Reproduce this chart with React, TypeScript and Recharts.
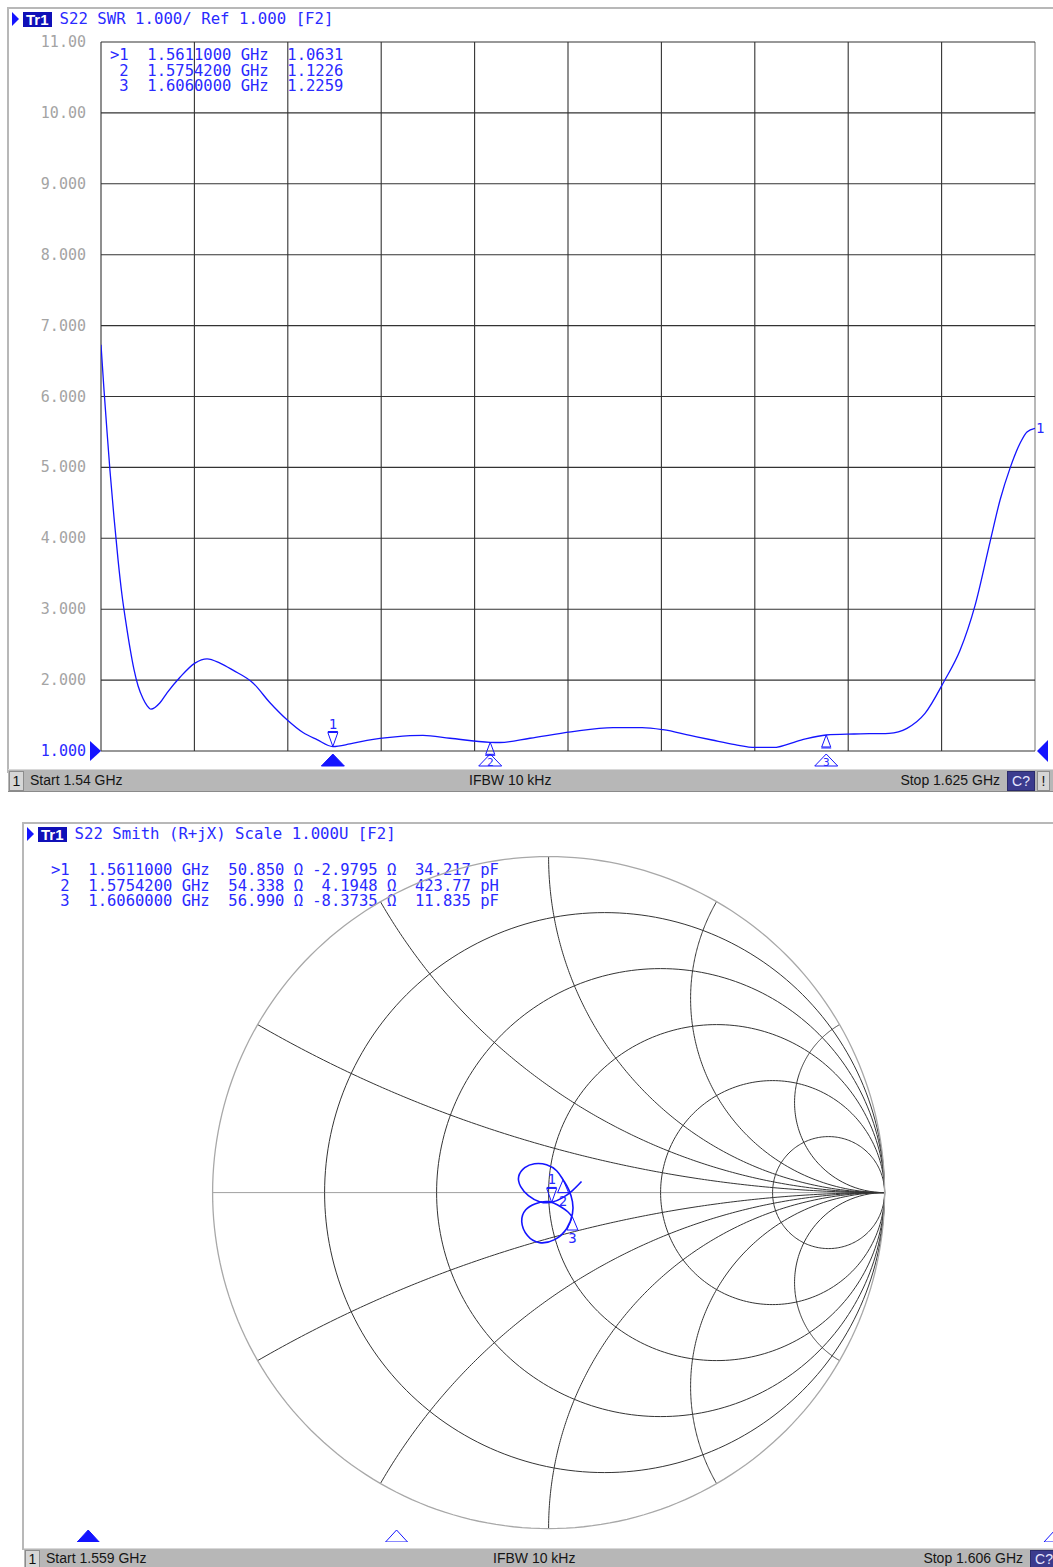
import React from 'react';
import { ComposedChart, Line, XAxis, YAxis, ReferenceLine, ReferenceDot } from 'recharts';

// ---------- data ----------
const startGHz = 1.54;
const stopGHz = 1.625;
const swrFreq = [1.54, 1.54027, 1.54055, 1.54082, 1.54118, 1.54155, 1.54191, 1.54228, 1.54264, 1.543, 1.54337, 1.54382, 1.54419, 1.54455, 1.54537, 1.54601, 1.54719, 1.54855, 1.54965, 1.55083, 1.55201, 1.55383, 1.55538, 1.55693, 1.55838, 1.55966, 1.5611, 1.56266, 1.56421, 1.56676, 1.5693, 1.57176, 1.57542, 1.57631, 1.57904, 1.58277, 1.5866, 1.58924, 1.59115, 1.59361, 1.59561, 1.5977, 1.59952, 1.60116, 1.60371, 1.606, 1.60853, 1.61172, 1.61335, 1.61499, 1.61672, 1.61818, 1.61954, 1.62091, 1.62182, 1.62273, 1.62364, 1.62427, 1.625];
const swrVal = [6.73, 6.1, 5.5, 4.95, 4.3, 3.7, 3.2, 2.8, 2.45, 2.15, 1.92, 1.74, 1.64, 1.59, 1.68, 1.82, 2.04, 2.24, 2.3, 2.24, 2.14, 1.96, 1.68, 1.44, 1.26, 1.16, 1.063, 1.1, 1.15, 1.2, 1.22, 1.18, 1.1226, 1.12, 1.18, 1.27, 1.33, 1.33, 1.3, 1.22, 1.155, 1.09, 1.05, 1.05, 1.155, 1.2259, 1.24, 1.25, 1.32, 1.53, 1.98, 2.42, 3.05, 3.95, 4.54, 4.99, 5.34, 5.5, 5.55];
const swrTicks = [1, 2, 3, 4, 5, 6, 7, 8, 9, 10, 11];
const swrTickLabels = ['1.000', '2.000', '3.000', '4.000', '5.000', '6.000', '7.000', '8.000', '9.000', '10.00', '11.00'];

const markerNames = ['1', '2', '3'];
const markerFreq = [1.5611, 1.57542, 1.606];
const markerSwr = [1.0631, 1.1226, 1.2259];
const markerR = [50.85, 54.338, 56.99];
const markerX = [-2.9795, 4.1948, -8.3735];
const markerLC = ['34.217 pF', '423.77 pH', '11.835 pF'];

const smithStart = 1.559;
const smithStop = 1.606;
const smithRe = [0.098, 0.071, 0.042, 0.009, -0.027, -0.06, -0.083, -0.089, -0.071, -0.042, -0.006, 0.024, 0.043, 0.06, 0.071, 0.071, 0.054, 0.018, -0.027, -0.063, -0.08, -0.068, -0.039, 0.0, 0.036, 0.057, 0.071];
const smithIm = [0.033, 0.006, -0.015, -0.029, -0.027, -0.009, 0.018, 0.048, 0.074, 0.086, 0.083, 0.065, 0.0385, 0.009, -0.027, -0.063, -0.107, -0.14, -0.149, -0.128, -0.086, -0.051, -0.033, -0.027, -0.042, -0.057, -0.0727];

const rCircles = [0.2, 0.5, 1, 2, 5];
const xArcs = [0.268, 0.577, 1, 1.732, 3.732];

// ---------- styles ----------
const MONO = '"DejaVu Sans Mono", monospace';
const SANS = '"Liberation Sans", Arial, sans-serif';
const BLUE = '#2a2aff';
const TRACE = '#1414ff';
const GRID = '#333333';
const GRAYTXT = '#a4a4a4';

// Smith geometry
const CX = 549;
const CY = 1193;
const RAD = 336;
const PAD = 1.1;
const SSIZE = 2 * RAD * PAD;

const zToGamma = (r: number, x: number) => {
  const den = (r + 1) * (r + 1) + x * x;
  return { x: (r * r - 1 + x * x) / den, y: (2 * x) / den };
};
const rCirclePts = (r: number) => {
  const c = r / (r + 1);
  const rad = 1 / (r + 1);
  return Array.from({ length: 241 }, (_, i) => {
    const a = (i / 240) * 2 * Math.PI;
    return { x: c + rad * Math.cos(a), y: rad * Math.sin(a) };
  });
};
const xArcPts = (xv: number) =>
  Array.from({ length: 201 }, (_, i) => {
    if (i === 200) return { x: 1, y: 0 };
    const r = Math.tan(((i / 200) * Math.PI) / 2);
    return zToGamma(r, xv);
  });

function SwrTick(props: any) {
  const { x, y, payload } = props;
  const v = payload.value;
  const label = swrTickLabels[swrTicks.indexOf(v)];
  const isRef = v === 1;
  return (
    <g>
      <text x={x - 7} y={y} dy={5} textAnchor="end" fontFamily={MONO} fontSize={15} fill={isRef ? BLUE : GRAYTXT}>
        {label}
      </text>
      {isRef && <polygon points={`${x - 3},${y - 10} ${x + 8},${y} ${x - 3},${y + 10}`} fill={TRACE} />}
    </g>
  );
}

function ActiveMark({ cx, cy, label }: any) {
  return (
    <g>
      <text x={cx} y={cy - 18} textAnchor="middle" fontFamily={MONO} fontSize={14} fill={BLUE}>
        {label}
      </text>
      <line x1={cx - 5} x2={cx + 5} y1={cy - 15} y2={cy - 15} stroke={TRACE} strokeWidth={1} />
      <polygon points={`${cx - 5},${cy - 14} ${cx + 5},${cy - 14} ${cx},${cy}`} fill="none" stroke={TRACE} strokeWidth={1} />
    </g>
  );
}

function InactiveSwrMark({ cx, cy }: any) {
  return (
    <g>
      <polygon points={`${cx},${cy} ${cx - 4.5},${cy + 12} ${cx + 4.5},${cy + 12}`} fill="none" stroke={TRACE} strokeWidth={1} />
      <line x1={cx - 5} x2={cx + 5} y1={cy + 13} y2={cy + 13} stroke={TRACE} strokeWidth={1} />
    </g>
  );
}

function SmithInactiveMark({ cx, cy, label }: any) {
  return (
    <g>
      <polygon points={`${cx},${cy} ${cx - 5.5},${cy + 13} ${cx + 5.5},${cy + 13}`} fill="none" stroke={TRACE} strokeWidth={1} />
      <text x={cx} y={cy + 26} textAnchor="middle" fontFamily={MONO} fontSize={14} fill={BLUE}>
        {label}
      </text>
    </g>
  );
}

function AxisIndicator({ cx, cy, active, label }: any) {
  const pts = `${cx},${cy + 3} ${cx - 11.5},${cy + 15} ${cx + 11.5},${cy + 15}`;
  return (
    <g>
      <polygon points={pts} fill={active ? TRACE : 'none'} stroke={TRACE} strokeWidth={1} />
      {!active && (
        <text x={cx} y={cy + 15} textAnchor="middle" fontFamily={MONO} fontSize={11} fill={BLUE}>
          {label}
        </text>
      )}
    </g>
  );
}

function Header({ left, top, text }: any) {
  return (
    <div style={{ position: 'absolute', left, top, height: 16, display: 'flex', alignItems: 'center', whiteSpace: 'pre' }}>
      <svg width={8} height={14} style={{ display: 'block' }}>
        <polygon points="0,0 7,7 0,14" fill={TRACE} />
      </svg>
      <div
        style={{
          marginLeft: 3,
          background: '#1010b8',
          color: '#ffffff',
          fontFamily: SANS,
          fontSize: 15,
          fontWeight: 'bold',
          lineHeight: '15px',
          height: 15,
          padding: '0 3px',
        }}
      >
        Tr1
      </div>
      <div style={{ marginLeft: 8, color: BLUE, fontFamily: MONO, fontSize: 15.7, lineHeight: '16px' }}>{text}</div>
    </div>
  );
}

function StatusBar({ left, top, width, height, start, ifbwLeft, stop, stopRight, cLeft, bang }: any) {
  const box: React.CSSProperties = {
    position: 'absolute',
    top: 1,
    height: height - 3,
    background: '#d6d6d6',
    border: '1px solid #8c8c8c',
    fontSize: 14,
    lineHeight: `${height - 3}px`,
    textAlign: 'center',
    color: '#111',
  };
  return (
    <div
      style={{
        position: 'absolute',
        left,
        top,
        width,
        height,
        background: '#b7b7b7',
        borderTop: '1px solid #d8d8d8',
        borderBottom: '1px solid #8a8a8a',
        fontFamily: SANS,
        fontSize: 14,
        color: '#151515',
        lineHeight: `${height}px`,
        overflow: 'hidden',
      }}
    >
      <div style={{ ...box, left: 1, width: 13 }}>1</div>
      <div style={{ position: 'absolute', left: 22 }}>{start}</div>
      <div style={{ position: 'absolute', left: ifbwLeft }}>IFBW 10 kHz</div>
      <div style={{ position: 'absolute', right: width - stopRight, textAlign: 'right' }}>{stop}</div>
      <div style={{ ...box, left: cLeft, width: 26, background: '#3b3b8e', border: '1px solid #2a2a6a', color: '#e6e6ff' }}>C?</div>
      {bang && <div style={{ ...box, left: cLeft + 30, width: 11 }}>!</div>}
    </div>
  );
}

export default function App() {
  const swrData = swrFreq.map((f, i) => ({ f, swr: swrVal[i] }));
  const gridF = Array.from({ length: 11 }, (_, i) => startGHz + (i * (stopGHz - startGHz)) / 10);

  const swrRows = markerNames.map(
    (n, i) => `${i === 0 ? '>' : ' '}${n}  ${markerFreq[i].toFixed(7)} GHz  ${markerSwr[i].toFixed(4)}`
  );
  const smithRows = markerNames.map(
    (n, i) =>
      `${i === 0 ? '>' : ' '}${n}  ${markerFreq[i].toFixed(7)} GHz  ${markerR[i].toFixed(3)} Ω ${markerX[i] < 0 ? '' : ' '}${markerX[i].toFixed(4)} Ω  ${markerLC[i]}`
  );

  const smithTrace = smithRe.map((x, i) => ({ x, y: smithIm[i] }));
  const markerGamma = markerR.map((r, i) => zToGamma(r / 50, markerX[i] / 50));

  const gridLines: { key: string; pts: { x: number; y: number }[]; color: string; w: number }[] = [];
  gridLines.push({ key: 'axis', pts: [{ x: -1, y: 0 }, { x: 1, y: 0 }], color: '#a0a0a0', w: 1 });
  rCircles.forEach((r) => gridLines.push({ key: 'r' + r, pts: rCirclePts(r), color: GRID, w: 1 }));
  xArcs.forEach((xv) => {
    gridLines.push({ key: 'xp' + xv, pts: xArcPts(xv), color: GRID, w: 1 });
    gridLines.push({ key: 'xn' + xv, pts: xArcPts(-xv), color: GRID, w: 1 });
  });
  gridLines.push({ key: 'outer', pts: rCirclePts(0), color: '#a8a8a8', w: 1.3 });

  return (
    <div style={{ position: 'absolute', left: 0, top: 0, width: 1053, height: 1567, overflow: 'hidden', background: '#fff', fontFamily: SANS }}>
      {/* top panel frame */}
      <div style={{ position: 'absolute', left: 7, top: 7, width: 1060, height: 764, borderLeft: '2px solid #b8b8b8', borderTop: '2px solid #b8b8b8' }} />
      <Header left={12} top={11} text="S22 SWR 1.000/ Ref 1.000 [F2]" />

      <div style={{ position: 'absolute', left: 0, top: 0 }}>
        <ComposedChart width={1053} height={800} data={swrData} margin={{ top: 42, right: 18, bottom: 49, left: 8 }}>
          <XAxis dataKey="f" type="number" domain={[startGHz, stopGHz]} allowDataOverflow hide />
          <YAxis
            type="number"
            domain={[1, 11]}
            ticks={swrTicks}
            allowDataOverflow
            width={93}
            axisLine={false}
            tickLine={false}
            interval={0}
            tick={(p: any) => <SwrTick {...p} />}
          />
          {gridF.map((f, i) => (
            <ReferenceLine key={'gx' + i} x={f} stroke={i === 10 ? '#b8b8b8' : GRID} strokeWidth={i === 10 ? 2 : 1.1} />
          ))}
          {swrTicks.map((t) => (
            <ReferenceLine key={'gy' + t} y={t} stroke={GRID} strokeWidth={1.1} />
          ))}
          <Line dataKey="swr" type="monotone" stroke={TRACE} strokeWidth={1.3} dot={false} activeDot={false} isAnimationActive={false} />
          {markerFreq.map((f, i) => (
            <ReferenceDot
              key={'mk' + i}
              x={f}
              y={markerSwr[i]}
              r={0}
              ifOverflow="visible"
              shape={(p: any) => (i === 0 ? <ActiveMark cx={p.cx} cy={p.cy} label={markerNames[i]} /> : <InactiveSwrMark cx={p.cx} cy={p.cy} />)}
            />
          ))}
          {markerFreq.map((f, i) => (
            <ReferenceDot
              key={'ind' + i}
              x={f}
              y={1}
              r={0}
              ifOverflow="visible"
              shape={(p: any) => <AxisIndicator cx={p.cx} cy={p.cy} active={i === 0} label={markerNames[i]} />}
            />
          ))}
          <ReferenceDot
            x={stopGHz}
            y={1}
            r={0}
            ifOverflow="visible"
            shape={(p: any) => <polygon points={`${p.cx + 2},${p.cy} ${p.cx + 13},${p.cy - 11} ${p.cx + 13},${p.cy + 11}`} fill={TRACE} />}
          />
          <ReferenceDot
            x={stopGHz}
            y={swrVal[swrVal.length - 1]}
            r={0}
            ifOverflow="visible"
            shape={(p: any) => (
              <text x={p.cx + 1} y={p.cy + 5} fontFamily={MONO} fontSize={14} fill={BLUE}>
                1
              </text>
            )}
          />
        </ComposedChart>
      </div>

      <div style={{ position: 'absolute', left: 110, top: 48, fontFamily: MONO, fontSize: 15.5, lineHeight: '15.5px', color: BLUE, whiteSpace: 'pre' }}>
        {swrRows.map((r, i) => (
          <div key={i}>{r}</div>
        ))}
      </div>

      <StatusBar left={8} top={769} width={1045} height={21} start="Start 1.54 GHz" ifbwLeft={461} stop="Stop 1.625 GHz" stopRight={992} cLeft={999} bang />

      {/* bottom panel frame */}
      <div style={{ position: 'absolute', left: 22, top: 822, width: 1060, height: 726, borderLeft: '2px solid #b8b8b8', borderTop: '2px solid #b8b8b8' }} />
      <Header left={27} top={826} text="S22 Smith (R+jX) Scale 1.000U [F2]" />
      <div style={{ position: 'absolute', left: 51, top: 863, fontFamily: MONO, fontSize: 15.5, lineHeight: '15.5px', color: BLUE, whiteSpace: 'pre' }}>
        {smithRows.map((r, i) => (
          <div key={i}>{r}</div>
        ))}
      </div>

      <div style={{ position: 'absolute', left: CX - RAD * PAD, top: CY - RAD * PAD }}>
        <ComposedChart width={SSIZE} height={SSIZE} margin={{ top: 0, right: 0, bottom: 0, left: 0 }}>
          <XAxis dataKey="x" type="number" domain={[-PAD, PAD]} allowDataOverflow hide />
          <YAxis type="number" domain={[-PAD, PAD]} allowDataOverflow hide />
          {gridLines.map((g) => (
            <Line
              key={g.key}
              data={g.pts}
              dataKey="y"
              type="linear"
              stroke={g.color}
              strokeWidth={g.w}
              dot={false}
              activeDot={false}
              isAnimationActive={false}
            />
          ))}
          <Line data={smithTrace} dataKey="y" type="natural" stroke={TRACE} strokeWidth={1.6} dot={false} activeDot={false} isAnimationActive={false} />
          {markerGamma.map((g, i) => (
            <ReferenceDot
              key={'sm' + i}
              x={g.x}
              y={g.y}
              r={0}
              ifOverflow="visible"
              shape={(p: any) =>
                i === 0 ? <ActiveMark cx={p.cx} cy={p.cy} label={markerNames[i]} /> : <SmithInactiveMark cx={p.cx} cy={p.cy} label={markerNames[i]} />
              }
            />
          ))}
        </ComposedChart>
      </div>

      {/* frequency position indicators along the bottom of the Smith panel */}
      <div style={{ position: 'absolute', left: 43, top: 1512 }}>
        <ComposedChart width={1012} height={30} data={[{ f: smithStart }, { f: smithStop }]} margin={{ top: 0, right: 0, bottom: 0, left: 0 }}>
          <XAxis dataKey="f" type="number" domain={[smithStart, smithStop]} allowDataOverflow hide />
          <YAxis type="number" domain={[0, 1]} allowDataOverflow hide />
          {markerFreq.map((f, i) => (
            <ReferenceDot
              key={'si' + i}
              x={f}
              y={0}
              r={0}
              ifOverflow="visible"
              shape={(p: any) => (
                <polygon
                  points={`${p.cx},${p.cy - 12} ${p.cx - 11},${p.cy} ${p.cx + 11},${p.cy}`}
                  fill={i === 0 ? TRACE : 'none'}
                  stroke={TRACE}
                  strokeWidth={1}
                />
              )}
            />
          ))}
        </ComposedChart>
      </div>

      <StatusBar left={24} top={1548} width={1029} height={19} start="Start 1.559 GHz" ifbwLeft={469} stop="Stop 1.606 GHz" stopRight={999} cLeft={1006} bang={false} />
    </div>
  );
}
